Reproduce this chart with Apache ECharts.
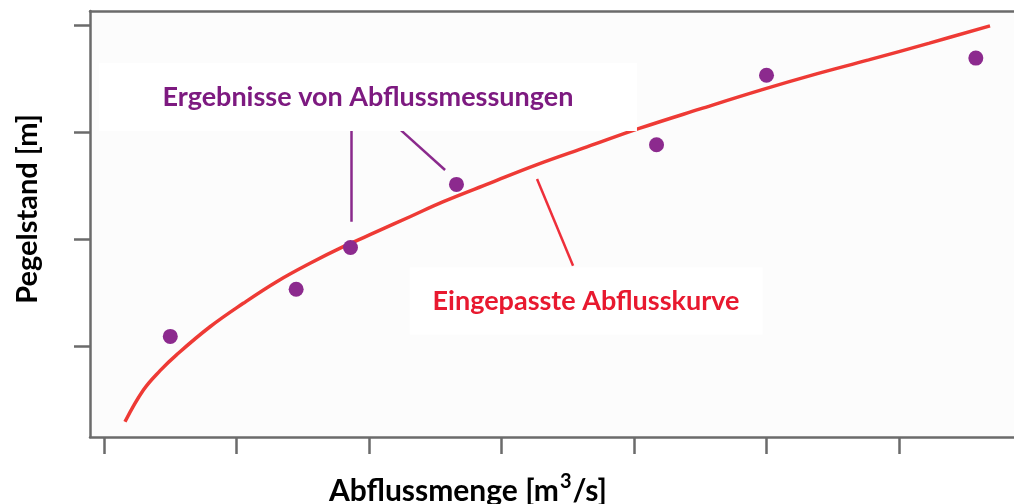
<!DOCTYPE html>
<html><head><meta charset="utf-8">
<script src="https://cdn.jsdelivr.net/npm/echarts@6/dist/echarts.min.js"></script>
<style>html,body{margin:0;padding:0;background:#fff}#c{width:1014px;height:504px}</style>
</head><body><div id="c"></div>
<script>
// ---- data (arbitrary units) ----
const measurements = [[1.50,1.09],[2.45,1.53],[2.86,1.92],[3.66,2.51],[5.17,2.88],[6.00,3.53],[7.58,3.69]];
const fittedCurve = [[1.158,0.293],[1.297,0.589],[1.423,0.770],[1.549,0.920],[1.800,1.180],[2.051,1.399],[2.303,1.601],[2.555,1.773],[2.806,1.928],[3.058,2.068],[3.309,2.208],[3.561,2.349],[3.913,2.522],[4.263,2.692],[4.645,2.860],[5.045,3.035],[5.500,3.215],[5.962,3.393],[6.371,3.540],[6.771,3.673],[7.230,3.830],[7.687,3.991]];
const xTicks = [1,2,3,4,5,6,7];
const yTicks = [1,2,3,4];
const xRange = [0.894, 7.868];
const yRange = [0.15, 4.13];
const xTitleMain = 'Abflussmenge [m';
const xTitleSup = '3';
const xTitleEnd = '/s]';
const yTitle = 'Pegelstand [m]';
const labelMeasure = 'Ergebnisse von Abflussmessungen';
const labelCurve = 'Eingepasste Abflusskurve';
// annotation anchor points (data coords)
const measureBoxAt = [2.992, 3.327];
const curveBoxAt = [4.638, 1.421];
const measureLeaders = [[[2.864,3.04],[2.864,2.16]], [[3.219,3.04],[3.574,2.645]]];
const curveLeaders = [[[4.268,2.56],[4.540,1.75]]];

const FONT = 'Lato';
const FS = 27;
const axisColor = '#6b6b6b';
const purple = '#7d1a80';
const dotColor = '#8c2a8e';
const red = '#ee3a35';
const redText = '#e8192f';

const chart = echarts.init(document.getElementById('c'), null, {renderer:'canvas'});
const axisLineStyle = {color: axisColor, width: 2.5, cap: 'round'};
chart.setOption({
  animation: false,
  backgroundColor: '#ffffff',
  grid: {left: 90, top: 11, right: 0, bottom: 67, show: true, backgroundColor: '#fcfcfc', borderWidth: 0},
  xAxis: [{
    type: 'value', min: xRange[0], max: xRange[1], position: 'bottom',
    axisLine: {show: true, onZero: false, lineStyle: axisLineStyle},
    axisTick: {show: true, length: 17, customValues: xTicks, lineStyle: {color: axisColor, width: 2.5}},
    axisLabel: {show: false}, splitLine: {show: false}
  }, {
    type: 'value', min: xRange[0], max: xRange[1], position: 'top',
    axisLine: {show: true, onZero: false, lineStyle: axisLineStyle},
    axisTick: {show: false}, axisLabel: {show: false}, splitLine: {show: false}
  }],
  yAxis: {
    type: 'value', min: yRange[0], max: yRange[1],
    axisLine: {show: true, onZero: false, lineStyle: axisLineStyle},
    axisTick: {show: true, length: 16, customValues: yTicks, lineStyle: {color: axisColor, width: 2.5}},
    axisLabel: {show: false}, splitLine: {show: false}
  },
  graphic: [
    {type: 'text', x: 28, y: 209, rotation: Math.PI/2,
     style: {text: yTitle, font: 'bold 29px ' + FONT, fill: '#000', align: 'center', verticalAlign: 'middle'}},
    {type: 'text', x: 468, y: 491,
     style: {text: xTitleMain + '{sup|' + xTitleSup + '}' + xTitleEnd,
             font: 'bold 30px ' + FONT, fill: '#000', align: 'center', verticalAlign: 'middle', lineHeight: 38,
             rich: {sup: {font: 'bold 20px ' + FONT, fill: '#000', verticalAlign: 'top', lineHeight: 20, padding: [0, 1, 0, 1]}}}}
  ],
  series: [
    {
      type: 'line', data: fittedCurve, smooth: 0.4, showSymbol: false, symbol: 'none',
      lineStyle: {color: red, width: 3.5}, z: 3,
      markPoint: {
        symbol: 'rect', symbolSize: [353, 67], silent: true,
        itemStyle: {color: '#ffffff'},
        label: {show: true, position: 'inside', formatter: labelCurve, color: redText, fontFamily: FONT, fontWeight: 'bold', fontSize: FS},
        data: [{coord: curveBoxAt}]
      }
    },
    {
      type: 'scatter', data: measurements, symbolSize: 15, z: 4,
      itemStyle: {color: dotColor, opacity: 1},
      markPoint: {
        symbol: 'rect', symbolSize: [538, 68], silent: true,
        itemStyle: {color: '#ffffff'},
        label: {show: true, position: 'inside', formatter: labelMeasure, color: purple, fontFamily: FONT, fontWeight: 'bold', fontSize: FS},
        data: [{coord: measureBoxAt}]
      }
    },
    {
      type: 'lines', coordinateSystem: 'cartesian2d', z: 2,
      lineStyle: {color: '#8a2a8c', width: 2.5, opacity: 1},
      data: measureLeaders.map(c => ({coords: c}))
    },
    {
      type: 'lines', coordinateSystem: 'cartesian2d', z: 2,
      lineStyle: {color: '#ee2f3a', width: 2.5, opacity: 1},
      data: curveLeaders.map(c => ({coords: c}))
    }
  ]
});
</script>
</body></html>
